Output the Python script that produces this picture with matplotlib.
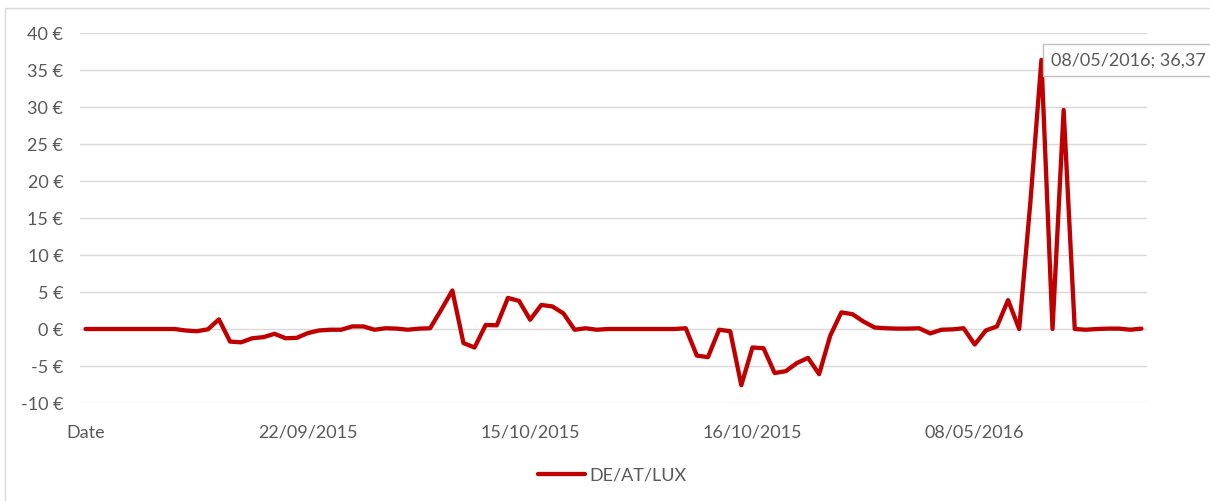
import matplotlib
matplotlib.use('Agg')
import matplotlib.pyplot as plt
from matplotlib.patches import Rectangle

# price spread per category (EUR/MWh)
values = [
    0.0, 0.0, 0.0, 0.0, 0.0, 0.0, 0.0, 0.0, 0.0, -0.2,
    -0.3, -0.05, 1.3, -1.7, -1.8, -1.25, -1.1, -0.65, -1.25, -1.2,
    -0.55, -0.2, -0.1, -0.1, 0.35, 0.35, -0.1, 0.1, 0.05, -0.1,
    0.05, 0.1, 2.6, 5.2, -1.9, -2.5, 0.55, 0.5, 4.2, 3.8,
    1.25, 3.25, 3.05, 2.1, -0.1, 0.1, -0.1, 0.0, 0.0, 0.0,
    0.0, 0.0, 0.0, 0.0, 0.1, -3.6, -3.8, -0.1, -0.3, -7.6,
    -2.5, -2.6, -5.95, -5.7, -4.6, -3.9, -6.1, -0.9, 2.25, 2.0,
    1.0, 0.2, 0.1, 0.05, 0.05, 0.1, -0.6, -0.1, -0.05, 0.1,
    -2.1, -0.2, 0.35, 3.9, 0.0, 17.0, 36.37, 0.0, 29.6, 0.0,
    -0.1, 0.0, 0.05, 0.05, -0.1, 0.05,
]
# category labels shown on the axis (every 20th category)
label_pos = [0, 20, 40, 60, 80]
label_txt = ['Date', '22/09/2015', '15/10/2015', '16/10/2015', '08/05/2016']
yticks = [-10, -5, 0, 5, 10, 15, 20, 25, 30, 35, 40]
series_name = 'DE/AT/LUX'
peak_idx = 86
peak_label = '08/05/2016; 36,37'

red = '#C00000'
grey = '#595959'
plt.rcParams['font.family'] = ['Lato', 'DejaVu Sans']
fs = 13

fig = plt.figure(figsize=(12.1, 5.02), dpi=100)
ax = fig.add_axes([80 / 1210, 1 - 404 / 502, 1067 / 1210, 370 / 502])

x = list(range(len(values)))
ax.plot(x, values, color=red, lw=3.1, solid_joinstyle='round',
        solid_capstyle='round', label=series_name, zorder=3)

ax.set_xlim(-0.5, len(values) - 0.5)
ax.set_ylim(-10, 40)
ax.set_yticks(yticks)
ax.set_yticklabels([f'{v} €' for v in yticks])
ax.set_xticks(label_pos)
ax.set_xticklabels(label_txt)
ax.tick_params(axis='both', length=0, colors=grey, labelsize=fs)
ax.tick_params(axis='y', pad=12)
ax.tick_params(axis='x', pad=15)
ax.grid(axis='y', color='#d9d9d9', lw=1)
ax.set_axisbelow(True)
for s in ax.spines.values():
    s.set_visible(False)

# data callout on the peak
ax.annotate(peak_label, xy=(peak_idx, values[peak_idx]), xytext=(10, 0),
            textcoords='offset pixels', ha='left', va='center', color=grey,
            fontsize=fs,
            bbox=dict(boxstyle='square,pad=0.45', fc='white', ec='#bfbfbf', lw=1))

leg = fig.legend(loc='center', bbox_to_anchor=(612 / 1210, 1 - 476 / 502),
                 frameon=False, handlelength=2.6, handletextpad=0.25,
                 fontsize=fs)
for t in leg.get_texts():
    t.set_color(grey)

# chart area border
fig.patches.append(Rectangle((5 / 1210, -0.1), 1.2, 1 - 9 / 502 + 0.1,
                             transform=fig.transFigure, fill=False,
                             ec='#d9d9d9', lw=1))

fig.savefig('out.png', dpi=100)
